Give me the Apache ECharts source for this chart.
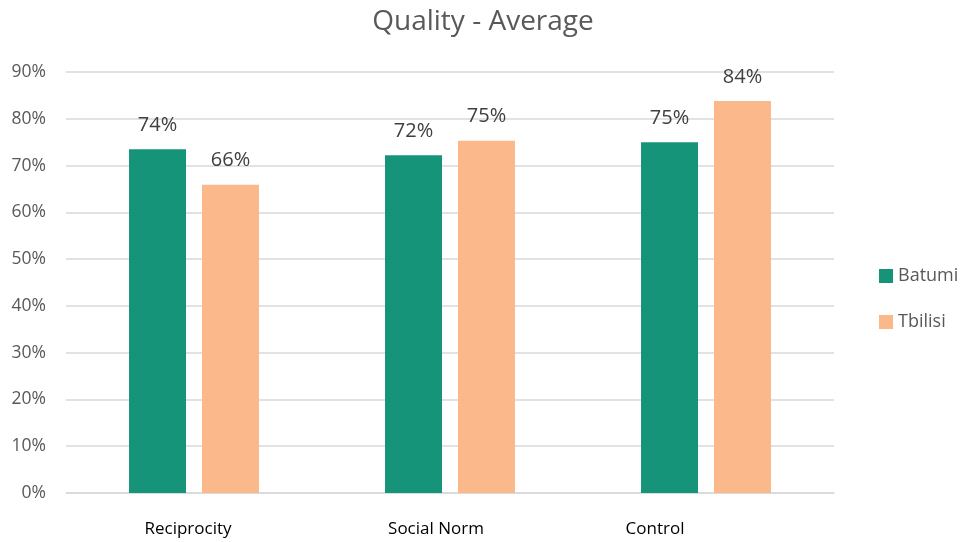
<!DOCTYPE html>
<html>
<head>
<meta charset="utf-8">
<script src="https://cdn.jsdelivr.net/npm/echarts@6/dist/echarts.min.js"></script>
<style>
  html, body { margin: 0; padding: 0; background: #fff; }
  #chart { width: 966px; height: 542px; }
</style>
</head>
<body>
<div id="chart"></div>
<script>
const categories = ['Reciprocity', 'Social Norm', 'Control'];
const batumi = [73.5, 72.2, 75.0];
const tbilisi = [65.9, 75.3, 83.8];
const yTicks = [0, 10, 20, 30, 40, 50, 60, 70, 80, 90];

const FONT = '"Open Sans", Lato, sans-serif';

// the original category labels sit a little left of their bar groups
const labelShift = [12, 28, 102];

const chart = echarts.init(document.getElementById('chart'));

const labelStyle = {
  show: true,
  position: 'top',
  distance: 14,
  fontSize: 20,
  fontFamily: FONT,
  color: '#404040',
  formatter: p => Math.round(p.value) + '%'
};

const rich = {};
labelShift.forEach((s, i) => {
  rich['c' + i] = { fontSize: 17, color: '#000', fontFamily: FONT, padding: [0, s, 0, 0] };
});

chart.setOption({
  animation: false,
  title: {
    text: 'Quality - Average',
    left: 'center',
    top: 3,
    textStyle: { fontSize: 28, fontWeight: 'normal', color: '#595959', fontFamily: FONT }
  },
  legend: {
    orient: 'vertical',
    left: 874,
    top: 262,
    itemWidth: 14,
    itemHeight: 14,
    itemGap: 28,
    icon: 'rect',
    textStyle: { fontSize: 18, color: '#595959', fontFamily: FONT }
  },
  grid: { left: 66, right: 132, top: 72, bottom: 49 },
  xAxis: {
    type: 'category',
    data: categories,
    axisLine: { lineStyle: { color: '#d9d9d9', width: 1.5 } },
    axisTick: { show: false },
    axisLabel: {
      margin: 28,
      formatter: (v, i) => '{c' + i + '|' + v + '}',
      rich: rich
    }
  },
  yAxis: {
    type: 'value',
    min: yTicks[0],
    max: yTicks[yTicks.length - 1],
    interval: 10,
    axisLine: { show: false },
    axisTick: { show: false },
    splitLine: { lineStyle: { color: '#d9d9d9', width: 1.5 } },
    axisLabel: { fontSize: 17.5, color: '#595959', fontFamily: FONT, margin: 20, formatter: v => v + '%' }
  },
  series: [
    {
      name: 'Batumi',
      type: 'bar',
      data: batumi,
      barWidth: 57,
      barGap: '28%',
      itemStyle: { color: '#16947a' },
      label: labelStyle
    },
    {
      name: 'Tbilisi',
      type: 'bar',
      data: tbilisi,
      barWidth: 57,
      itemStyle: { color: '#fbb98b' },
      label: labelStyle
    }
  ]
});
</script>
</body>
</html>
